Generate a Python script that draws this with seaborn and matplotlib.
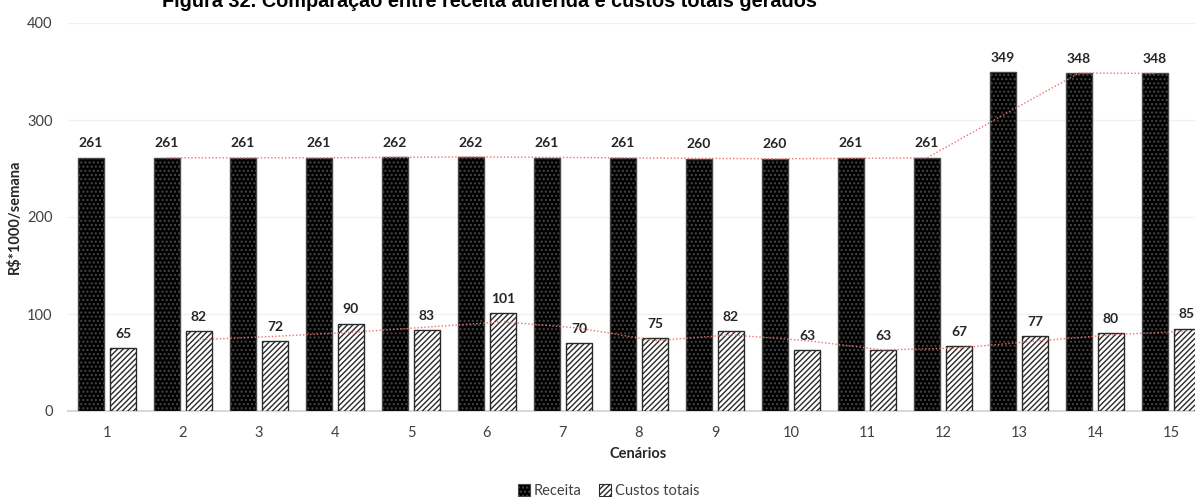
import matplotlib
matplotlib.use("Agg")
import matplotlib.pyplot as plt
from matplotlib.patches import Patch
import seaborn as sns
import pandas as pd

# Scenario data (R$ * 1000 per week)
cenarios = [str(i) for i in range(1, 16)]
receita = [261, 261, 261, 261, 262, 262, 261, 261, 260, 260, 261, 261, 349, 348, 348]
custos = [65, 82, 72, 90, 83, 101, 70, 75, 82, 63, 63, 67, 77, 80, 85]
series_names = ["Receita", "Custos totais"]
y_ticks = [0, 100, 200, 300, 400]

df = pd.DataFrame({
    "Cenário": cenarios * 2,
    "Valor": receita + custos,
    "Série": [series_names[0]] * len(cenarios) + [series_names[1]] * len(cenarios),
})

sns.set_theme(style="white")
plt.rcParams["font.family"] = ["Lato", "DejaVu Sans"]
plt.rcParams["hatch.linewidth"] = 1.0

W, H = 1195, 497
fig = plt.figure(figsize=(W / 100, H / 100), dpi=100)
left_px, right_px, top_px, bottom_px = 68, 1209, 23, 411
ax = fig.add_axes([left_px / W, 1 - bottom_px / H,
                   (right_px - left_px) / W, (bottom_px - top_px) / H])

sns.barplot(data=df, x="Cenário", y="Valor", hue="Série",
            palette=["black", "white"], width=0.84, gap=0.19,
            ax=ax, legend=False, zorder=3)

rec_bars, cus_bars = ax.containers[0], ax.containers[1]
for p in rec_bars:
    p.set_facecolor("black")
    p.set_edgecolor("#484848")
    p.set_hatch("....")
    p.set_linewidth(1.0)
for p in cus_bars:
    p.set_facecolor("white")
    p.set_edgecolor("#2a2a2a")
    p.set_hatch("//////")
    p.set_linewidth(1.0)

label_font = dict(fontsize=10, fontweight="bold", color="#262626")
ax.bar_label(rec_bars, labels=[str(v) for v in receita], padding=6, **label_font)
ax.bar_label(cus_bars, labels=[str(v) for v in custos], padding=6, **label_font)

# Two-period moving-average trend lines over each series
rec_ma = pd.Series(receita).rolling(2).mean()
cus_ma = pd.Series(custos).rolling(2).mean()
rec_x = [p.get_x() + p.get_width() / 2 for p in rec_bars]
cus_x = [p.get_x() + p.get_width() / 2 for p in cus_bars]
trend_style = dict(color="#f07070", linestyle=(0, (1, 1.5)), linewidth=1.0, zorder=4)
ax.plot(rec_x[1:], rec_ma[1:], **trend_style)
ax.plot(cus_x[1:], cus_ma[1:], **trend_style)

ax.set_xlim(-0.513, 14.5)
ax.set_ylim(0, 400)
ax.set_yticks(y_ticks)
ax.yaxis.grid(True, color="#f0f0f0", linewidth=1.0, zorder=0)
ax.set_axisbelow(True)
for s in ["top", "right", "left"]:
    ax.spines[s].set_visible(False)
ax.spines["bottom"].set_color("#d9d9d9")
ax.spines["bottom"].set_linewidth(1.5)
ax.tick_params(axis="both", length=0, labelsize=10.5, labelcolor="#404040")
ax.tick_params(axis="y", pad=11)
ax.tick_params(axis="x", pad=11)

ax.set_xlabel("Cenários", fontsize=10.5, fontweight="bold", color="#262626", labelpad=5)
ax.set_ylabel("R$*1000/semana", fontsize=10.5, fontweight="bold", color="#262626", labelpad=4)

fig.text(489 / W, 1 - 7 / H,
         "Figura 32. Comparação entre receita auferida e custos totais gerados",
         ha="center", va="baseline", fontsize=14.3, fontweight="bold",
         family=["Liberation Sans", "DejaVu Sans"], color="black")

handles = [
    Patch(facecolor="black", edgecolor="#484848", hatch="....", linewidth=0.8),
    Patch(facecolor="white", edgecolor="#2a2a2a", hatch="//////", linewidth=0.8),
]
fig.legend(handles, series_names, loc="center", bbox_to_anchor=(609 / W, 1 - 491 / H),
           ncol=2, frameon=False, fontsize=10.5, handlelength=0.8, handleheight=0.8,
           handletextpad=0.3, columnspacing=1.2, labelcolor="#404040")

fig.savefig("out.png", dpi=100)
